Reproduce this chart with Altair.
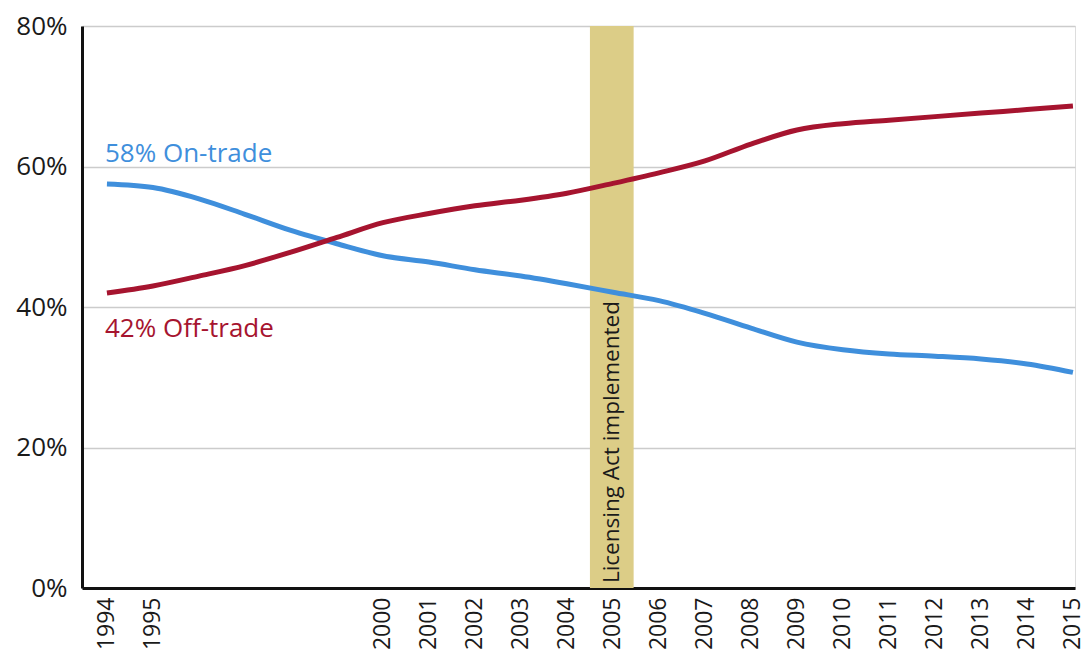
import altair as alt
import pandas as pd

years = list(range(1994, 2016))
on_trade = [57.5, 57.0, 55.4, 53.2, 50.9, 49.0, 47.3, 46.4, 45.3, 44.4, 43.3, 42.1,
            40.9, 39.1, 37.0, 35.0, 33.9, 33.3, 33.0, 32.6, 31.9, 30.7]
off_trade = [42.0, 43.0, 44.4, 45.9, 47.8, 49.9, 52.0, 53.3, 54.4, 55.2, 56.2, 57.6,
             59.1, 60.8, 63.2, 65.2, 66.1, 66.6, 67.1, 67.6, 68.1, 68.6]
tick_years = [1994, 1995] + list(range(2000, 2016))
y_ticks = [0, 20, 40, 60, 80]

band_start = [2004.5]
band_end = [2005.45]
band_label = ["Licensing Act implemented"]
band_label_x = [2005]
band_label_y = [0.7]

series_labels = ["58% On-trade", "42% Off-trade"]
series_label_x = [1994, 1994]
series_label_y = [60.7, 35.7]
series_names = ["On-trade", "Off-trade"]
colors = ["#3f8fdc", "#a6142f"]

FONT = "Open Sans"

df = pd.DataFrame({
    "year": years * 2,
    "share": on_trade + off_trade,
    "series": ["On-trade"] * len(years) + ["Off-trade"] * len(years),
})
band_df = pd.DataFrame({"x": band_start, "x2": band_end, "y": [0], "y2": [80]})
band_text_df = pd.DataFrame({"x": band_label_x, "y": band_label_y, "t": band_label})
lab_df = pd.DataFrame({"x": series_label_x, "y": series_label_y, "t": series_labels,
                       "series": series_names})

xscale = alt.Scale(domain=[1993.458, 2015.045], nice=False, zero=False)
yscale = alt.Scale(domain=[0, 80], nice=False)
color_scale = alt.Scale(domain=series_names, range=colors)

x_axis = alt.Axis(values=tick_years, format="d", labelAngle=270, labelFontSize=23,
                  labelFont=FONT, labelColor="#1a1a1a", labelPadding=9,
                  ticks=False, domainColor="#111111", domainWidth=3, grid=False,
                  title=None, labelOverlap=False)
y_axis = alt.Axis(values=y_ticks, labelExpr="datum.value + '%'", labelFontSize=26,
                  labelFont=FONT, labelColor="#1a1a1a", labelPadding=15,
                  ticks=False, domainColor="#111111", domainWidth=3,
                  grid=True, gridColor="#cccccc", gridWidth=1.5, title=None)

band = alt.Chart(band_df).mark_rect(color="#dccd87").encode(
    x=alt.X("x:Q", scale=xscale, axis=x_axis),
    x2="x2:Q",
    y=alt.Y("y:Q", scale=yscale, axis=y_axis),
    y2="y2:Q",
)

band_text = alt.Chart(band_text_df).mark_text(
    angle=270, align="left", baseline="middle", fontSize=22.5, font=FONT,
    color="#1a1a1a", dy=-1
).encode(x=alt.X("x:Q", scale=xscale), y=alt.Y("y:Q", scale=yscale), text="t:N")

lines = alt.Chart(df).mark_line(strokeWidth=5, interpolate="monotone").encode(
    x=alt.X("year:Q", scale=xscale),
    y=alt.Y("share:Q", scale=yscale),
    color=alt.Color("series:N", scale=color_scale, legend=None),
)

labels = alt.Chart(lab_df).mark_text(
    align="left", baseline="alphabetic", fontSize=26, font=FONT, dx=-2
).encode(
    x=alt.X("x:Q", scale=xscale),
    y=alt.Y("y:Q", scale=yscale),
    text="t:N",
    color=alt.Color("series:N", scale=color_scale, legend=None),
)

chart = alt.layer(band, band_text, lines, labels).properties(
    width=993, height=562,
    autosize=alt.AutoSizeParams(type="none"),
    padding={"left": 74, "top": 18, "right": 8, "bottom": 62},
).configure_view(stroke=None).configure(background="white")

chart.save("out.html", embed_options={"renderer": "svg", "actions": False})
